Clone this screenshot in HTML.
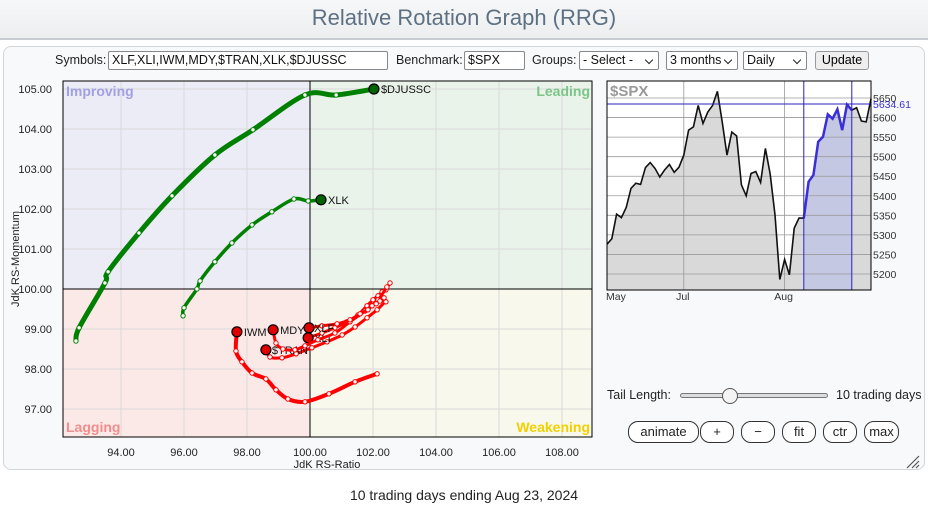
<!DOCTYPE html>
<html><head><meta charset="utf-8"><style>
*{box-sizing:border-box}
body{margin:0;width:928px;height:512px;background:#fff;font-family:"Liberation Sans",Arial,sans-serif;position:relative;overflow:hidden}
.hdr{position:absolute;left:0;top:0;width:928px;height:40px;background:linear-gradient(#f6f7f8,#eceef0);border-bottom:2px solid #c9cdd1}
.hdr h1{margin:0;font-weight:normal;font-size:22px;color:#5d7182;text-align:center;line-height:36px}
.panel{position:absolute;left:3px;top:46px;width:922px;height:424px;border:1px solid #d3d6d9;border-radius:8px;background:#f8f9fa}
.lbl{position:absolute;font-size:12.5px;color:#222}
.inp{position:absolute;height:19px;border:1px solid #888;background:#fff;font-size:12.5px;padding:1px 3px;color:#111;border-radius:2px}
.sel::after{content:"";position:absolute;right:6px;top:5px;width:5px;height:5px;border-right:1.5px solid #222;border-bottom:1.5px solid #222;transform:rotate(45deg)}
.btn{position:absolute;height:19px;border:1px solid #999;background:#eee;font-size:12.5px;border-radius:3px;text-align:center;line-height:17px}
.rb{position:absolute;top:421px;height:22px;border:1px solid #333;border-radius:10px;background:#fff;font-size:13px;text-align:center;line-height:20px;color:#222}
</style></head><body>
<div class="hdr"><h1>Relative Rotation Graph (RRG)</h1></div>
<div class="panel"></div>
<div class="lbl" style="left:55px;top:53px">Symbols:</div>
<div class="inp" style="left:108px;top:51px;width:280px">XLF,XLI,IWM,MDY,$TRAN,XLK,$DJUSSC</div>
<div class="lbl" style="left:396px;top:53px">Benchmark:</div>
<div class="inp" style="left:464px;top:51px;width:61px">$SPX</div>
<div class="lbl" style="left:532px;top:53px">Groups:</div>
<div class="inp sel" style="left:579px;top:51px;width:80px">- Select -</div>
<div class="inp sel" style="left:666px;top:51px;width:72px">3 months</div>
<div class="inp sel" style="left:743px;top:51px;width:64px">Daily</div>
<div class="btn" style="left:815px;top:51px;width:54px">Update</div>

<svg id="rrg" width="928" height="512" style="position:absolute;left:0;top:0"></svg>

<div class="lbl" style="left:607px;top:388px;font-size:12.5px">Tail Length:</div>
<div style="position:absolute;left:680px;top:393px;width:148px;height:5px;border:1px solid #777;border-radius:3px;background:#ddd"></div>
<div style="position:absolute;left:722px;top:388px;width:16px;height:16px;border:1px solid #555;border-radius:50%;background:#f4f4f4"></div>
<div class="lbl" style="left:836px;top:388px">10 trading days</div>
<div class="rb" style="left:628px;width:71px">animate</div>
<div class="rb" style="left:700px;width:34px">+</div>
<div class="rb" style="left:741px;width:34px">−</div>
<div class="rb" style="left:782px;width:34px">fit</div>
<div class="rb" style="left:823px;width:34px">ctr</div>
<div class="rb" style="left:864px;width:35px">max</div>
<svg style="position:absolute;left:905px;top:455px" width="16" height="14"><path d="M2 13L14 1M7 13L14 6M11 13L14 10" stroke="#555" stroke-width="1.2"/></svg>
<div style="position:absolute;left:0;top:487px;width:928px;text-align:center;font-size:14px;color:#222">10 trading days ending Aug 23, 2024</div>

<script>
// RRG data (RS-Ratio, RS-Momentum), tail start -> head
const xTicks=[94,96,98,100,102,104,106,108];
const yTicks=[97,98,99,100,101,102,103,104,105];
const djusscRatio=[92.57,92.67,93.49,93.59,94.57,95.62,96.98,98.19,99.84,100.83,102.03];
const djusscMom=[98.70,99.03,100.15,100.43,101.40,102.33,103.35,103.98,104.85,104.85,105.00];
const xlkRatio=[95.97,96.00,96.41,96.51,96.98,97.52,98.16,98.79,99.49,99.94,100.35];
const xlkMom=[99.33,99.53,100.00,100.20,100.68,101.15,101.60,101.93,102.25,102.20,102.23];
const iwmRatio=[102.13,101.43,100.60,99.84,99.30,98.92,98.60,98.16,97.84,97.65,97.68];
const iwmMom=[97.88,97.68,97.38,97.18,97.25,97.48,97.75,97.90,98.18,98.45,98.93];
const mdyRatio=[102.44,102.16,101.75,101.27,100.79,100.25,99.84,99.52,99.14,98.92,98.83];
const mdyMom=[100.05,99.73,99.45,99.18,98.90,98.73,98.58,98.48,98.50,98.65,98.98];
const tranRatio=[102.38,102.13,101.81,101.43,101.02,100.54,100.06,99.56,99.11,98.73,98.60];
const tranMom=[99.68,99.48,99.28,99.05,98.85,98.68,98.53,98.38,98.28,98.30,98.48];
const xliRatio=[102.54,102.41,102.29,102.16,102.00,101.81,101.52,101.17,100.79,100.38,99.94];
const xliMom=[100.15,99.98,99.93,99.83,99.73,99.58,99.35,99.18,99.03,98.90,98.78];
const xlfRatio=[102.41,102.35,102.22,102.10,101.97,101.84,101.59,101.27,100.86,100.38,99.97];
const xlfMom=[99.68,99.78,99.70,99.63,99.58,99.48,99.38,99.23,99.13,99.08,99.03];
// SPX
const spxValues=[5276,5290,5353,5344,5370,5419,5432,5429,5472,5485,5470,5448,5466,5480,5460,5473,5504,5568,5576,5631,5585,5614,5631,5667,5589,5504,5563,5553,5428,5400,5457,5462,5434,5521,5455,5351,5186,5237,5198,5317,5343,5343,5436,5453,5538,5551,5608,5597,5621,5568,5633,5619,5625,5591,5589,5648];
const spxTicks=[5200,5250,5300,5350,5400,5450,5500,5550,5600,5650];
const spxMonths=["May","Jul","Aug"];
const spxMonthIdx=[0,16,37];
const spxLast=5634.61;
const tailStart=41, tailEnd=51;

const NS="http://www.w3.org/2000/svg";
const svg=document.getElementById('rrg');
function mk(tag,attrs,parent){const e=document.createElementNS(NS,tag);for(const k in attrs)e.setAttribute(k,attrs[k]);(parent||svg).appendChild(e);return e;}
const PL=63,PR=592,PT=81,PB=437;
const X=v=>310+(v-100)*31.5;
const Y=v=>289-(v-100)*40;
function smooth(p){
  let d='M'+p[0][0]+' '+p[0][1];
  for(let i=0;i<p.length-1;i++){
    const p0=p[Math.max(0,i-1)],p1=p[i],p2=p[i+1],p3=p[Math.min(p.length-1,i+2)];
    const c1=[p1[0]+(p2[0]-p0[0])/6,p1[1]+(p2[1]-p0[1])/6];
    const c2=[p2[0]-(p3[0]-p1[0])/6,p2[1]-(p3[1]-p1[1])/6];
    d+=' C'+c1[0]+' '+c1[1]+' '+c2[0]+' '+c2[1]+' '+p2[0]+' '+p2[1];
  }
  return d;
}
let e;
e=mk('rect',{x:PL,y:PT,width:X(100)-PL,height:Y(100)-PT,fill:'#ececf7'});


e=mk('rect',{x:X(100),y:PT,width:PR-X(100),height:Y(100)-PT,fill:'#e9f3ea'});


e=mk('rect',{x:PL,y:Y(100),width:X(100)-PL,height:PB-Y(100),fill:'#fbe9e8'});


e=mk('rect',{x:X(100),y:Y(100),width:PR-X(100),height:PB-Y(100),fill:'#f9f8ec'});


xTicks.forEach(t=>{
  if(t!==100){e=mk('line',{x1:X(t),x2:X(t),y1:PT,y2:PB,stroke:'#d9d9d9'});}
  e=mk('text',{x:X(t),y:456,'font-size':11,'text-anchor':'middle',fill:'#222'});e.textContent=t.toFixed(2);
  
  
});
yTicks.forEach(t=>{
  if(t!==100){e=mk('line',{x1:PL,x2:PR,y1:Y(t),y2:Y(t),stroke:'#d9d9d9'});}
  e=mk('text',{x:52,y:Y(t)+4,'font-size':11,'text-anchor':'end',fill:'#222'});e.textContent=t.toFixed(2);
  
  
});
e=mk('line',{x1:X(100),x2:X(100),y1:PT,y2:PB,stroke:'#000'});


e=mk('line',{x1:PL,x2:PR,y1:Y(100),y2:Y(100),stroke:'#000'});


e=mk('rect',{x:PL,y:PT,width:PR-PL,height:PB-PT,fill:'none',stroke:'#000'});


e=mk('text',{x:327,y:468,'font-size':11,'text-anchor':'middle',fill:'#222'});e.textContent='JdK RS-Ratio';


e=mk('text',{x:19,y:259,'font-size':11,'text-anchor':'middle',fill:'#222',transform:'rotate(-90 19 259)'});e.textContent='JdK RS-Momentum';


const ql=[['Improving',66,96,'start','#a0a0e2','improving-label'],['Leading',590,96,'end','#7cc488','leading-label'],['Lagging',66,432,'start','#f28d8d','lagging-label'],['Weakening',590,432,'end','#f2d000','weakening-label']];
ql.forEach(q=>{e=mk('text',{x:q[1],y:q[2],'font-size':14,'font-weight':'bold','text-anchor':q[3],fill:q[4]});e.textContent=q[0];

});

function series(name,rx,my,color,head,w,label,lx,ly){
  const g=mk('g',{});
  
  
  const pts=rx.map((r,i)=>[X(r),Y(my[i])]);
  e=mk('path',{d:smooth(pts),fill:'none',stroke:color,'stroke-width':w,'stroke-linejoin':'round','stroke-linecap':'round'},g);
  
  
  for(let i=0;i<rx.length-1;i++){e=mk('circle',{cx:X(rx[i]),cy:Y(my[i]),r:2.2,fill:'#fff',stroke:color,'stroke-width':1},g);
    
    }
  const n=rx.length-1;
  e=mk('circle',{cx:X(rx[n]),cy:Y(my[n]),r:5,fill:head,stroke:'#000','stroke-width':1.2},g);
  
  
  e=mk('text',{x:X(rx[n])+lx,y:Y(my[n])+ly,'font-size':11,fill:'#111'},g);e.textContent=label;
  
  
}
series('djussc',djusscRatio,djusscMom,'#008000','#006400',5,'$DJUSSC',7,4);
series('xlk',xlkRatio,xlkMom,'#008000','#006400',3.5,'XLK',7,4);
series('iwm',iwmRatio,iwmMom,'#ff0000','#e00000',4,'IWM',7,4);
series('tran',tranRatio,tranMom,'#ff0000','#e00000',3,'$TRAN',6,4);
series('xli',xliRatio,xliMom,'#ff0000','#e00000',3,'XLI',6,4);
series('mdy',mdyRatio,mdyMom,'#ff0000','#e00000',3,'MDY',7,4);
series('xlf',xlfRatio,xlfMom,'#ff0000','#e00000',3,'XLF',5,4);

// SPX chart
const SL=607,SR=871,ST=81,SB=290;
const SX=i=>SL+(i/(spxValues.length-1))*(SR-SL);
const SY=v=>98+(5650-v)*(176/450);
e=mk('rect',{x:SL,y:ST,width:SR-SL,height:SB-ST,fill:'#fff'});


const area=[SL+','+SB].concat(spxValues.map((v,i)=>SX(i)+','+SY(v))).concat([SR+','+SB]).join(' ');
e=mk('polygon',{points:area,fill:'#d9d9d9'});


const tail=[SX(tailStart)+','+SB].concat(spxValues.slice(tailStart,tailEnd+1).map((v,i)=>SX(i+tailStart)+','+SY(v))).concat([SX(tailEnd)+','+SB]).join(' ');
e=mk('polygon',{points:tail,fill:'#c5c8e2'});


spxTicks.forEach(t=>{
  e=mk('line',{x1:SL,x2:SR,y1:SY(t),y2:SY(t),stroke:'#9a9a9a','stroke-width':0.8});
  
  
  e=mk('text',{x:SR+2,y:SY(t)+4,'font-size':10.5,fill:'#333'});e.textContent=t;
  
  
});
spxMonthIdx.forEach((m,k)=>{
  e=mk('line',{x1:SX(m),x2:SX(m),y1:ST,y2:SB,stroke:'#9a9a9a','stroke-width':0.8});
  
  
  e=mk('text',{x:SX(m)-1,y:300,'font-size':10.5,fill:'#333','text-anchor':k===0?'start':'middle'});e.textContent=spxMonths[k];
  
  
});
e=mk('polyline',{points:spxValues.map((v,i)=>SX(i)+','+SY(v)).join(' '),fill:'none',stroke:'#111','stroke-width':1.6});


e=mk('polyline',{points:spxValues.slice(tailStart,tailEnd+1).map((v,i)=>SX(i+tailStart)+','+SY(v)).join(' '),fill:'none',stroke:'#3a2fd6','stroke-width':2.5});


[tailStart,tailEnd].forEach(i=>{e=mk('line',{x1:SX(i),x2:SX(i),y1:ST,y2:SB,stroke:'#2a20c0','stroke-width':1});
  
  });
e=mk('line',{x1:SL,x2:SR,y1:SY(spxLast),y2:SY(spxLast),stroke:'#2a20c0','stroke-width':1});


e=mk('text',{x:SR+2,y:SY(spxLast)+4,'font-size':10.5,fill:'#3a2fd6'});e.textContent=spxLast.toFixed(2);


e=mk('rect',{x:SL,y:ST,width:SR-SL,height:SB-ST,fill:'none',stroke:'#000'});


e=mk('text',{x:SL+3,y:ST+15,'font-size':15,'font-weight':'bold',fill:'#999'});e.textContent='$SPX';


</script>
</body></html>
